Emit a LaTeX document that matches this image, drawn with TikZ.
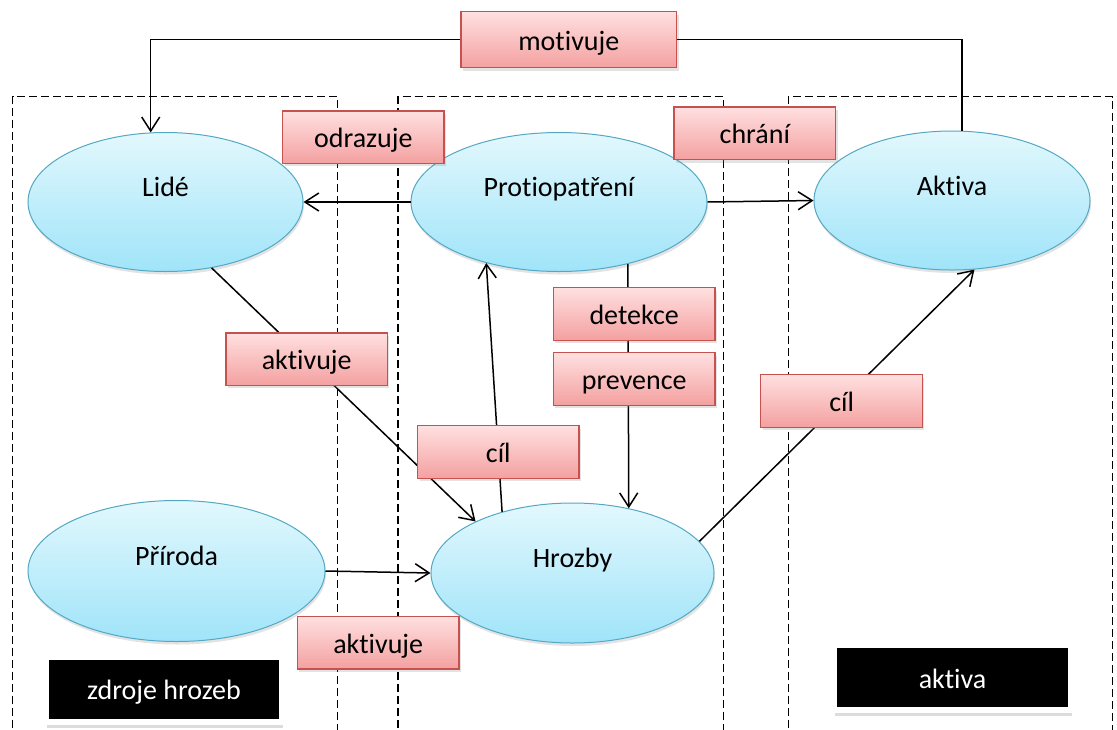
\documentclass[tikz,border=0pt]{standalone}
\usepackage{fontspec}
\setmainfont[Ligatures={NoCommon,NoContextual}]{Carlito}
\usetikzlibrary{positioning,arrows.meta,shapes,shadows}

\definecolor{elltop}{RGB}{226,248,253}
\definecolor{ellbot}{RGB}{160,228,249}
\definecolor{ellline}{RGB}{84,168,196}
\definecolor{boxtop}{RGB}{255,224,224}
\definecolor{boxbot}{RGB}{244,160,160}
\definecolor{boxline}{RGB}{198,82,80}

\tikzset{
  party/.style={ellipse, draw=ellline, line width=1pt, top color=elltop, bottom color=ellbot,
    minimum width=276pt, minimum height=139pt, text height=18pt, text depth=29pt,
    drop shadow={shadow xshift=1pt, shadow yshift=-3pt, opacity=.22}},
  rel/.style={rectangle, draw=boxline, line width=1.2pt, top color=boxtop, bottom color=boxbot,
    minimum width=161.5pt, minimum height=52.5pt, inner sep=0pt, text height=21pt, text depth=0pt,
    drop shadow={shadow xshift=2pt, shadow yshift=-3pt, opacity=.22}},
  legend/.style={rectangle, fill=black, draw=white, line width=6pt, text=white,
    minimum width=236pt, minimum height=65pt, inner sep=0pt, text height=21pt, text depth=0pt,
    drop shadow={shadow xshift=1pt, shadow yshift=-6pt, opacity=.28}},
  zone/.style={dash pattern=on 8pt off 4pt, line width=1.4pt}
}

\begin{document}
\begin{tikzpicture}[x=1pt, y=-1pt, font=\fontsize{28}{33}\selectfont,
  >={Straight Barb[length=14pt,width=18pt]}, line width=1.5pt]
  \useasboundingbox (0,0) rectangle (1117,729);

  % zones
  \draw[zone] (12.5,740) |- (337.5,96.7) -- (337.5,740);
  \draw[zone] (398,740) |- (723.4,96.7) -- (723.4,740);
  \draw[zone] (788.4,740) |- (1112.5,96.7) -- (1112.5,740);

  % main parts
  \node[party, minimum width=275pt] (lide) at (165.5,202) {Lidé};
  \node[party, minimum width=296pt] (protio) at (559,202) {Protiopatření};
  \node[party] (aktiva) at (952,200.5) {Aktiva};
  \node[party, minimum width=297pt, minimum height=141pt] (priroda) at (176.5,571) {Příroda};
  \node[party, minimum width=283pt, minimum height=140pt] (hrozby) at (572.5,573) {Hrozby};

  \node[rel, minimum width=215.6pt, minimum height=56pt] (motivuje) at (568.8,39.7) {motivuje};

  % relations
  \draw[->] (motivuje.west) -| (lide.102);
  \draw (aktiva.82) |- (motivuje.east);
  \draw[->] (protio.west) -- (lide.east);
  \draw[->] (protio.east) -- (aktiva.west);
  \draw[->] (protio.318) -- (hrozby.49.5);
  \draw[->] (lide.305) -- node[rel, pos=.36] (aktivuje) {aktivuje} (hrozby.152);
  \draw[->] (hrozby.139.5) -- node[rel, pos=.24] (cil) {cíl} (protio.220);
  \draw[->] (hrozby.14) -- node[rel, pos=.517] (cilaktiva) {cíl} (aktiva.288);
  \draw[->] (priroda.east) -- (hrozby.west);

  \node[rel] (odrazuje) at (363.3,137.2) {odrazuje};
  \node[rel] (chrani) at (754.8,133.3) {chrání};
  \node[rel] (detekce) at (634.2,314) {detekce};
  \node[rel] (prevence) at (634.2,378.9) {prevence};
  \node[rel] (aktivuje2) at (378.2,642.8) {aktivuje};

  % legend
  \node[legend] (zdroje) at (164,689) {zdroje hrozeb};
  \node[legend, minimum width=237pt] (aktivalegend) at (952.5,677.7) {aktiva};
\end{tikzpicture}
\end{document}
